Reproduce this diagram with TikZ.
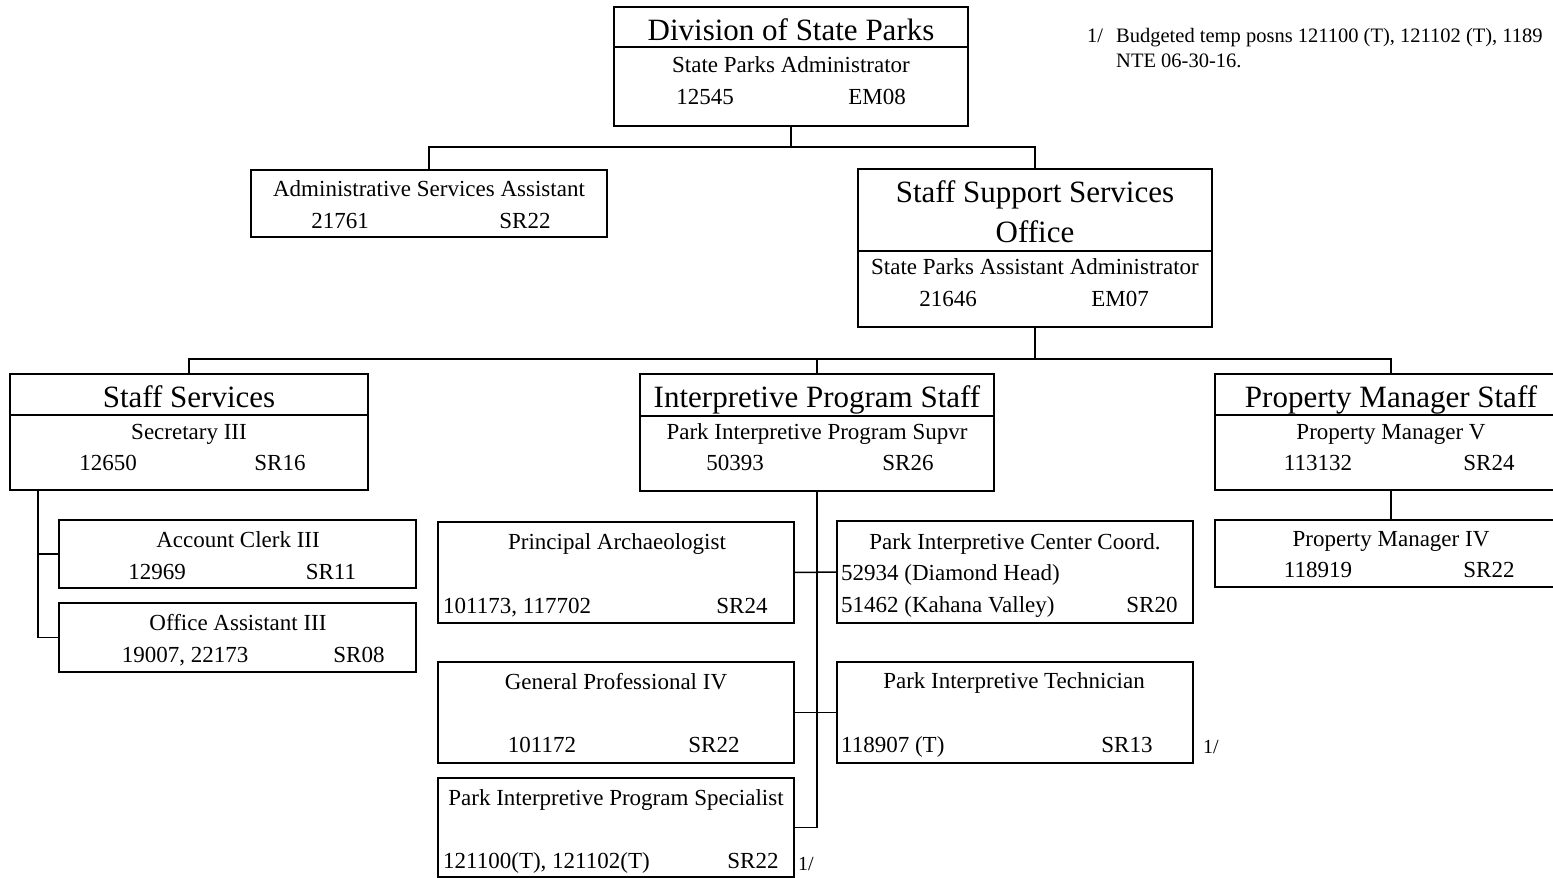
\documentclass[tikz,border=0pt]{standalone}
\usepackage{fontspec}
\setmainfont{Liberation Serif}
\begin{document}
\begin{tikzpicture}[x=1pt,y=-1pt,
  box/.style={draw, line width=1.5pt, inner sep=0pt, outer sep=0pt, anchor=north west},
  ln/.style={line width=1.5pt},
  tt/.style={inner sep=0pt, anchor=base, font=\fontsize{31}{31}\selectfont},
  tx/.style={inner sep=0pt, anchor=base, font=\fontsize{23}{23}\selectfont},
  tl/.style={inner sep=0pt, anchor=base west, font=\fontsize{23}{23}\selectfont},
  nt/.style={inner sep=0pt, anchor=base west, font=\fontsize{20.5}{20.5}\selectfont},
  mk/.style={inner sep=0pt, anchor=base west, font=\fontsize{20}{20}\selectfont}]
\useasboundingbox (0,0) rectangle (1553,878);
\clip (0,0) rectangle (1553,878);

% boxes
\node[box, minimum width=354pt, minimum height=119pt] (div) at (614,7) {};
\node[box, minimum width=356pt, minimum height=67pt] (asa) at (251,170) {};
\node[box, minimum width=354pt, minimum height=158pt] (ssso) at (858,169) {};
\node[box, minimum width=358pt, minimum height=116pt] (ss) at (10,374) {};
\node[box, minimum width=354pt, minimum height=117pt] (ips) at (640,374) {};
\node[box, minimum width=352pt, minimum height=116pt] (pms) at (1215,374) {};
\node[box, minimum width=357pt, minimum height=68pt] (ac) at (59,520) {};
\node[box, minimum width=357pt, minimum height=69pt] (oa) at (59,603) {};
\node[box, minimum width=356pt, minimum height=101pt] (pa) at (438,522) {};
\node[box, minimum width=356pt, minimum height=101pt] (gp) at (438,662) {};
\node[box, minimum width=356pt, minimum height=99pt] (pips) at (438,778) {};
\node[box, minimum width=356pt, minimum height=102pt] (picc) at (837,521) {};
\node[box, minimum width=356pt, minimum height=101pt] (pit) at (837,662) {};
\node[box, minimum width=352pt, minimum height=67pt] (pm4) at (1215,520) {};

% dividers
\draw[ln] ([yshift=-40pt]div.north west) -- ([yshift=-40pt]div.north east);
\draw[ln] ([yshift=-82pt]ssso.north west) -- ([yshift=-82pt]ssso.north east);
\draw[ln] ([yshift=-41pt]ss.north west) -- ([yshift=-41pt]ss.north east);
\draw[ln] ([yshift=-42pt]ips.north west) -- ([yshift=-42pt]ips.north east);
\draw[ln] ([yshift=-41pt]pms.north west) -- ([yshift=-41pt]pms.north east);

% connectors
\draw[ln] (div.south) -- ++(0,21) coordinate (j1);
\draw[ln] (asa.north) |- (j1) -| (ssso.north);
\draw[ln] (ssso.south) -- ++(0,32) coordinate (j2);
\draw[ln] (ss.north) |- (j2) -| (pms.north);
\draw[ln] (j2) -| (ips.north);
\draw[ln] ([xshift=28pt]ss.south west) coordinate (s1) |- (oa.west);
\draw[ln] (ac.west) -- (ac.west -| s1);
\draw[ln] (ips.south) |- (pips.east);
\draw[ln] (pa.east) -- (picc.west);
\draw[ln] (gp.east) -- (pit.west);
\draw[ln] (pms.south) -- (pm4.north);

% texts
\node[tt] (div-t) at (791,40) {Division of State Parks};
\node[tx] (div-s) at (791,72) {State Parks Administrator};
\node[tx] (div-a) at (705,104) {12545};
\node[tx] (div-b) at (877,104) {EM08};

\node[tx] (asa-s) at (429,196) {Administrative Services Assistant};
\node[tx] (asa-a) at (340,228) {21761};
\node[tx] (asa-b) at (525,228) {SR22};

\node[tt] (ssso-t1) at (1035,202) {Staff Support Services};
\node[tt] (ssso-t2) at (1035,242) {Office};
\node[tx] (ssso-s) at (1035,274) {State Parks Assistant Administrator};
\node[tx] (ssso-a) at (948,306) {21646};
\node[tx] (ssso-b) at (1120,306) {EM07};

\node[tt] (ss-t) at (189,407) {Staff Services};
\node[tx] (ss-s) at (189,439) {Secretary III};
\node[tx] (ss-a) at (108,470) {12650};
\node[tx] (ss-b) at (280,470) {SR16};

\node[tt] (ips-t) at (817,407) {Interpretive Program Staff};
\node[tx] (ips-s) at (817,439) {Park Interpretive Program Supvr};
\node[tx] (ips-a) at (735,470) {50393};
\node[tx] (ips-b) at (908,470) {SR26};

\node[tt] (pms-t) at (1391,407) {Property Manager Staff};
\node[tx] (pms-s) at (1391,439) {Property Manager V};
\node[tx] (pms-a) at (1318,470) {113132};
\node[tx] (pms-b) at (1489,470) {SR24};

\node[tx] (pm4-s) at (1391,546) {Property Manager IV};
\node[tx] (pm4-a) at (1318,577) {118919};
\node[tx] (pm4-b) at (1489,577) {SR22};

\node[tx] (ac-s) at (238,547) {Account Clerk III};
\node[tx] (ac-a) at (157,579) {12969};
\node[tx] (ac-b) at (331,579) {SR11};

\node[tx] (oa-s) at (238,630) {Office Assistant III};
\node[tx] (oa-a) at (185,662) {19007, 22173};
\node[tx] (oa-b) at (359,662) {SR08};

\node[tx] (pa-s) at (617,549) {Principal Archaeologist};
\node[tl] (pa-a) at (443,613) {101173, 117702};
\node[tx] (pa-b) at (742,613) {SR24};

\node[tx] (gp-s) at (616,689) {General Professional IV};
\node[tx] (gp-a) at (542,752) {101172};
\node[tx] (gp-b) at (714,752) {SR22};

\node[tx] (pips-s) at (616,805) {Park Interpretive Program Specialist};
\node[tl] (pips-a) at (443,868) {121100(T), 121102(T)};
\node[tx] (pips-b) at (753,868) {SR22};
\node[mk] (pips-m) at (798,870) {1/};

\node[tx] (picc-s) at (1015,549) {Park Interpretive Center Coord.};
\node[tl] (picc-a) at (841,580) {52934 (Diamond Head)};
\node[tl] (picc-c) at (841,612) {51462 (Kahana Valley)};
\node[tx] (picc-b) at (1152,612) {SR20};

\node[tx] (pit-s) at (1014,688) {Park Interpretive Technician};
\node[tl] (pit-a) at (841,752) {118907 (T)};
\node[tx] (pit-b) at (1127,752) {SR13};
\node[mk] (pit-m) at (1203,753) {1/};

% note
\node[nt] (n1) at (1087,42) {1/};
\node[nt] (n2) at (1116,42) {Budgeted temp posns 121100 (T), 121102 (T), 1189};
\node[nt] (n3) at (1116,67) {NTE 06-30-16.};
\end{tikzpicture}
\end{document}
